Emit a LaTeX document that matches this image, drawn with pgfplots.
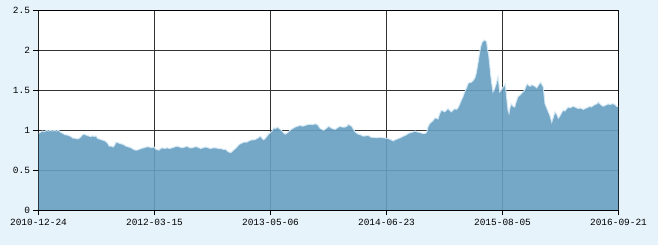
\documentclass[border=0pt]{standalone}
\usepackage{pgfplots}
\pgfplotsset{compat=1.18}
\usepackage{pgfplotstable}
\usepackage{fontspec}
\setmainfont{Liberation Sans}
\newfontfamily\tickfont{Liberation Mono}
\definecolor{bgc}{RGB}{231,243,251}
\definecolor{fillc}{RGB}{102,158,192}
\definecolor{edgec}{RGB}{214,234,247}
\definecolor{gridc}{RGB}{51,51,51}
\pgfplotstableread{
x y
0 0.96
1.5 0.97
4 0.99
6 0.98
8 1.0
10 0.99
12 1.0
14 0.99
16 1.0
18 0.99
20 1.0
22.5 0.97
24.5 0.96
26 0.945
28.5 0.94
30.8 0.93
32.5 0.92
34.2 0.90
36 0.90
37.5 0.895
39 0.89
40.8 0.90
42.5 0.92
44.2 0.945
46 0.95
47.5 0.94
49.5 0.93
52.5 0.92
54 0.93
56 0.92
57.5 0.93
59.2 0.895
61 0.89
64.2 0.875
66 0.87
67.5 0.855
69 0.84
70.8 0.80
73 0.80
74.8 0.79
76.5 0.82
77.5 0.85
80 0.84
82.5 0.83
85 0.82
87.5 0.80
90 0.79
92.5 0.78
95 0.76
96.8 0.75
98.5 0.75
100.5 0.76
102.5 0.77
105.5 0.78
108 0.79
110.5 0.79
113 0.78
115.5 0.79
117.5 0.76
120.5 0.75
122 0.77
124 0.78
126 0.77
128.8 0.78
131 0.77
133.8 0.78
136 0.79
138.8 0.80
141 0.79
143.8 0.78
146.5 0.79
148.8 0.80
151 0.78
153.8 0.78
156 0.79
158.8 0.79
160.5 0.78
162.2 0.77
164.5 0.78
167.2 0.79
169.5 0.78
172.2 0.77
174.5 0.78
177.2 0.78
180 0.77
182 0.77
185 0.76
187.2 0.76
189.5 0.73
192.2 0.72
193.5 0.73
195 0.75
197 0.77
198.5 0.79
200.5 0.82
203.5 0.84
205.5 0.85
208.5 0.85
211 0.87
213.5 0.88
216 0.88
218.5 0.895
220.3 0.91
221.8 0.925
223.5 0.90
225.2 0.88
227 0.90
228.5 0.925
230 0.95
231.8 0.97
233.5 0.99
235.2 1.03
237 1.02
238.5 1.04
241 1.02
243.5 0.99
245 0.97
246.8 0.95
249 0.97
251.8 1.0
254 1.02
256.8 1.04
259 1.05
261.8 1.06
264 1.05
266.8 1.06
269 1.07
271.8 1.075
274 1.07
276.8 1.08
279 1.07
281.8 1.02
283.5 1.01
285.2 1.0
287.5 1.02
290.2 1.05
292.5 1.03
294 1.02
296.5 1.01
299 1.03
301.5 1.05
303.5 1.04
306.5 1.04
308.5 1.05
309.8 1.075
311.5 1.06
313.2 1.05
314.5 1.02
316.5 0.98
318.5 0.96
319.8 0.95
322.5 0.94
324.8 0.925
327 0.93
329.8 0.935
331.5 0.92
333.2 0.91
335.5 0.91
338.2 0.905
341 0.91
344.8 0.905
347.5 0.90
349.8 0.895
352.5 0.88
354.8 0.865
356.5 0.88
359.8 0.895
362.5 0.91
364.8 0.925
367.5 0.94
369.8 0.96
372.5 0.97
374.8 0.98
376.5 0.99
378.2 0.98
381.5 0.97
384 0.96
386.5 0.96
388 0.97
389.5 1.04
391 1.08
392.8 1.10
394.5 1.12
396.2 1.15
398 1.15
399.5 1.14
401 1.20
402.8 1.25
404.5 1.24
406.2 1.23
408 1.25
409.5 1.27
411 1.25
412.8 1.23
414.5 1.25
416.2 1.27
418 1.26
419.5 1.28
421 1.32
422.8 1.375
424.5 1.42
426.2 1.48
428 1.53
429.5 1.58
431 1.60
432.8 1.60
434.5 1.62
436.2 1.65
437.5 1.70
438.8 1.79
440 1.88
441.2 1.98
442.3 2.05
443.5 2.10
445 2.12
446.2 2.13
447.3 2.12
448.2 2.10
449 2.02
450.2 1.94
451.2 1.82
452.2 1.69
453.3 1.58
454.5 1.48
455.5 1.50
457.2 1.56
458.5 1.62
459.5 1.67
460.2 1.60
461.2 1.48
462.5 1.50
464.5 1.54
466 1.56
466.8 1.58
467.8 1.45
468.8 1.33
469.5 1.25
470.5 1.21
471.5 1.28
472.8 1.33
474.5 1.30
476.2 1.29
477.5 1.35
479.5 1.42
481.5 1.44
483 1.46
484.5 1.48
486 1.50
487.8 1.56
488.8 1.58
490.2 1.56
491.8 1.55
493.2 1.57
494.8 1.56
496.5 1.55
498.2 1.53
500.2 1.57
502.2 1.60
503.5 1.57
504.8 1.54
505.5 1.45
506.5 1.33
508.2 1.28
509.8 1.23
511.5 1.18
513.2 1.10
514.8 1.16
516.5 1.23
518.2 1.20
519.8 1.15
521.5 1.18
523.2 1.22
524.8 1.25
526.5 1.24
528.2 1.27
529.8 1.29
531.5 1.28
533.2 1.29
534.8 1.30
536.5 1.29
538.2 1.28
539.8 1.27
541.5 1.28
543.2 1.27
544.8 1.26
546.5 1.27
548.2 1.28
549.8 1.29
551.5 1.30
553.2 1.29
554.8 1.31
556.5 1.32
558.2 1.33
559.8 1.35
561.5 1.33
563.2 1.31
564.8 1.30
566.5 1.31
568.2 1.32
569.8 1.33
571.5 1.32
573.2 1.33
574.8 1.33
576.5 1.32
578.2 1.30
580 1.30
}\datatable
\begin{document}
\begin{tikzpicture}[x=1bp,y=1bp]
\useasboundingbox (0,0) rectangle (658,245);
\fill[bgc] (0,0) rectangle (658,245);
\begin{axis}[
  at={(38.5bp,35bp)}, anchor=south west,
  scale only axis, width=580bp, height=199.5bp,
  xmin=0, xmax=580, ymin=0, ymax=2.5,
  xtick={0,116,232,348,464,580},
  xticklabels={2010-12-24,2012-03-15,2013-05-06,2014-06-23,2015-08-05,2016-09-21},
  ytick={0,0.5,1,1.5,2,2.5},
  yticklabels={0,0.5,1,1.5,2,2.5},
  xtick pos=lower, ytick pos=left,
  tick align=outside, major tick length=5bp,
  tick style={black, line width=0.8bp},
  grid=major,
  major grid style={gridc, line width=0.9bp},
  axis line style={draw=none},
  axis background/.style={fill=white},
  tick label style={font=\tickfont\fontsize{9.5}{10}\selectfont, text=black},
  xticklabel style={yshift=-1bp},
  /pgf/number format/assume math mode=true,
]
\addplot[draw=none, fill=fillc, fill opacity=0.9] table[x=x,y=y] {\datatable} \closedcycle;
\addplot[draw=edgec, line width=1bp, opacity=0.9] table[x=x,y=y] {\datatable};
\draw[black, line width=1bp] (rel axis cs:0,0) rectangle (rel axis cs:1,1);
\end{axis}
\end{tikzpicture}
\end{document}
